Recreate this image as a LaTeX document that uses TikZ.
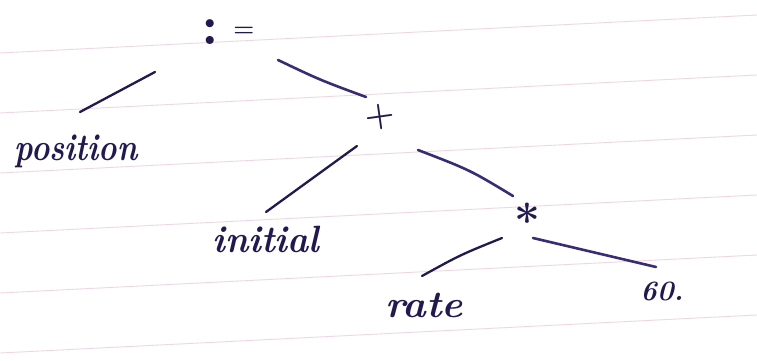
\documentclass[tikz,border=0pt]{standalone}
\usepackage{fontspec}
\usepackage{graphicx}
\definecolor{ink}{HTML}{221A4E}
\definecolor{inkb}{HTML}{3A2C72}
\definecolor{rulec}{HTML}{EFD6E2}
\newcommand\hw[2][1]{\scalebox{#1}[1]{#2}}
\begin{document}
\begin{tikzpicture}[x=1pt,y=-1pt,
  lab/.style={inner sep=0pt, text=ink, font=\fontsize{38}{38}\selectfont\bfseries\itshape},
  edge/.style={draw=ink, line width=2.3pt, line cap=round},
  edgeb/.style={draw=inkb, line width=2.6pt, line cap=round},
  rulel/.style={draw=rulec, line width=0.9pt}]
\useasboundingbox[fill=white] (0,0) rectangle (757,361);
\foreach \k in {-1,0,...,5}
  \draw[rulel] (0,{53+60*\k}) -- (757,{53+60*\k-38});
% nodes
\node[lab, anchor=base, font=\fontsize{56}{56}\selectfont\bfseries] (assign) at (228,45) {:\hspace{14pt}\raisebox{8pt}{\fontsize{24}{24}\selectfont =}};
\node[lab, anchor=base] (pos) at (76,160) {\hw[0.82]{position}};
\node[lab, font=\fontsize{34}{34}\selectfont\bfseries] (plus) at (380,117) {\rotatebox{8}{+}};
\node[lab, anchor=base] (init) at (266,252) {\hw[0.94]{initial}};
\node[lab, font=\fontsize{46}{46}\selectfont\bfseries, anchor=north] (times) at (527,203) {*};
\node[lab, anchor=base] (rate) at (424,317) {\hw[1.05]{rate}};
\node[lab, anchor=base, font=\fontsize{28}{28}\selectfont\bfseries\itshape] (sixty) at (662,300) {60.};
% edge end points
\coordinate (a-p) at (155,72);  \coordinate (p-a) at (80,112);
\coordinate (a-s) at (278,60);  \coordinate (s-a) at (366,97);
\coordinate (s-i) at (357,146); \coordinate (i-s) at (266,212);
\coordinate (s-t) at (418,150); \coordinate (t-s) at (513,196);
\coordinate (t-r) at (502,238); \coordinate (r-t) at (422,276);
\coordinate (t-6) at (533,238); \coordinate (6-t) at (656,267);
% connectors
\draw[edge] (a-p) -- (p-a);
\draw[edgeb] (a-s) .. controls (320,80) .. (s-a);
\draw[edge] (s-i) -- (i-s);
\draw[edgeb] (s-t) .. controls (470,170) .. (t-s);
\draw[edge] (t-r) .. controls (460,255) .. (r-t);
\draw[edgeb] (t-6) -- (6-t);
\end{tikzpicture}
\end{document}
